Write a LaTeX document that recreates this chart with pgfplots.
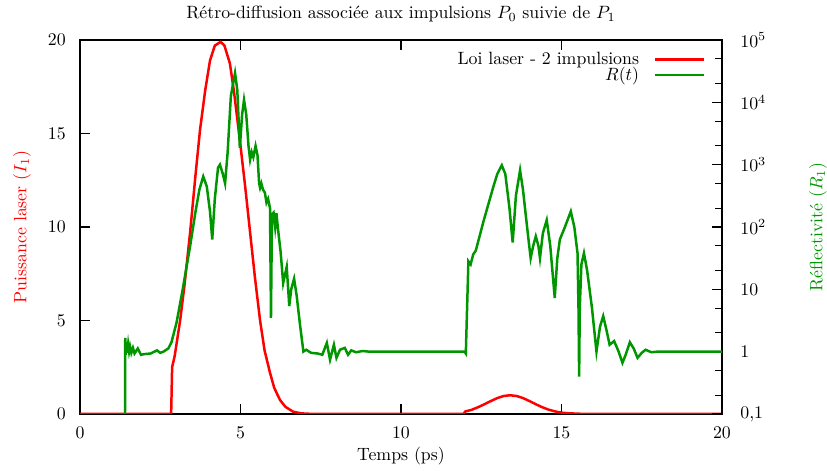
\documentclass[border=0pt]{standalone}
\usepackage{pgfplots}
\pgfplotsset{compat=1.18}
\definecolor{gpgreen}{RGB}{0,150,0}
\definecolor{gpred}{RGB}{255,0,0}

\pgfplotstableread{
t I
0 0
2.84 0
2.87 2.5
2.95 3.1
3.12 5.0
3.25 6.8
3.43 9.7
3.6 12.8
3.74 15.2
3.9 17.3
4.05 18.9
4.2 19.7
4.38 19.9
4.5 19.7
4.67 18.75
4.8 17.2
4.98 14.65
5.15 12.1
5.30 9.7
5.45 7.3
5.61 5.0
5.75 3.4
5.92 2.2
6.05 1.4
6.23 0.75
6.4 0.38
6.64 0.12
6.9 0.03
7.2 0.005
7.6 0
11.95 0
12.0 0.13
12.2 0.22
12.4 0.36
12.6 0.52
12.8 0.69
13.0 0.85
13.2 0.96
13.4 1.0
13.6 0.96
13.8 0.85
14.0 0.69
14.2 0.52
14.4 0.36
14.6 0.23
14.8 0.135
15.0 0.07
15.2 0.037
15.6 0.009
16 0
20 0
}\laser

\pgfplotstableread{
t R
1.40 0.05
1.41 1.66
1.43 0.891
1.45 1.413
1.47 0.955
1.50 1.318
1.53 1.0
1.56 1.202
1.60 0.955
1.65 1.148
1.70 0.933
1.80 1.122
1.90 0.891
2.0 0.912
2.2 0.933
2.4 1.047
2.5 0.955
2.6 1.0
2.75 1.122
2.85 1.413
2.95 2.239
3.01 2.951
3.2 10
3.43 48.98
3.6 177.8
3.72 398.1
3.84 645.7
3.95 446.7
4.05 177.8
4.12 63.10
4.2 281.8
4.30 891.3
4.36 1000
4.45 707.9
4.52 501.2
4.6 1585
4.7 12589
4.83 29512
4.90 15849
4.98 1862
5.05 6310
5.11 10965
5.18 6310
5.25 1995
5.30 1202
5.35 1585
5.40 1318
5.47 1995
5.53 1413
5.58 501.2
5.61 426.6
5.65 501.2
5.70 398.1
5.76 354.8
5.81 245.5
5.86 281.8
5.92 199.5
5.95 3.467
5.98 158.5
6.03 169.8
6.08 100
6.12 166.0
6.17 91.20
6.25 39.81
6.33 12.59
6.44 22.91
6.52 5.370
6.58 10
6.67 14.79
6.75 7.943
6.85 2.818
6.96 1.0
7.05 1.072
7.2 0.955
7.4 0.933
7.55 0.891
7.69 1.380
7.79 0.741
7.91 1.288
7.99 0.794
8.1 1.072
8.25 1.148
8.35 0.891
8.45 1.047
8.6 0.977
8.8 1.023
9.0 1.0
11.98 1.0
12.02 0.933
12.10 28.18
12.17 25.12
12.25 36.31
12.33 41.69
12.57 123.0
12.88 446.7
13.0 707.9
13.14 977.2
13.25 707.9
13.38 199.5
13.48 56.23
13.58 316.2
13.71 812.8
13.8 398.1
13.95 79.43
14.04 31.62
14.12 50.12
14.20 70.79
14.28 50.12
14.33 31.62
14.42 79.43
14.54 128.8
14.65 50.12
14.79 7.244
14.87 31.62
14.95 63.10
15.1 97.72
15.29 177.8
15.4 100
15.50 38
15.53 5
15.55 0.398
15.57 5
15.62 25
15.70 38.02
15.80 19.95
15.95 5.012
16.09 1.0
16.20 2.512
16.30 3.715
16.40 2.239
16.50 1.288
16.64 1.479
16.78 1.0
16.90 0.661
17.0 0.891
17.13 1.413
17.25 1.122
17.37 0.794
17.5 0.955
17.62 1.072
17.8 0.977
18.0 1.0
20.0 1.0
}\reflec

\begin{document}
\begin{tikzpicture}
\pgfplotsset{
  common/.style={
    scale only axis, width=360.7pt, height=210.1pt,
    xmin=0, xmax=20,
    tick align=inside,
    major tick length=5.5pt, minor tick length=4pt,
    axis line style={line width=0.8pt},
    every tick/.style={black, line width=0.6pt},
  }
}
\begin{axis}[common,
  ymin=0, ymax=20,
  xtick={0,5,10,15,20}, ytick={0,5,10,15,20},
  xtick pos=both, ytick pos=left,
  xticklabel style={yshift=-3.6pt},
  yticklabel style={xshift=-4.5pt},
  xlabel={Temps (ps)},
  xlabel style={at={(axis description cs:0.5,-0.1123)}, anchor=center},
  ylabel={Puissance laser ($I_1$)},
  ylabel style={at={(axis description cs:-0.0903,0.5)}, anchor=center, color=gpred},
  title={Rétro-diffusion associée aux impulsions $P_0$ suivie de $P_1$},
  title style={at={(axis description cs:0.5,1.072)}, anchor=center, yshift=-6.5pt},
]
\addplot[gpred, line width=1.4pt] table[x=t, y=I] {\laser};
\coordinate (bbsw) at (axis description cs:-0.1246,-0.1524);
\coordinate (bbne) at (axis description cs:1.1636,1.107);
\end{axis}
\begin{axis}[common,
  ymode=log, ymin=0.1, ymax=1e5,
  axis x line=none, axis y line*=right,
  ytick={0.1,1,10,100,1000,10000,100000},
  yticklabels={{0,1},1,10,$10^2$,$10^3$,$10^4$,$10^5$},
  minor ytick={0.2,0.5,2,5,20,50,200,500,2000,5000,20000,50000},
  yticklabel style={xshift=6.8pt},
  ylabel={Réflectivité ($R_1$)},
  ylabel style={at={(axis description cs:1.1495,0.5)}, anchor=center, color=gpgreen},
  legend style={draw=none, fill=none, at={(axis description cs:1,1)}, anchor=north east,
    xshift=-6pt, yshift=-3pt, row sep=-3pt, column sep=6.5pt,
    nodes={inner sep=1.5pt}},
  legend plot pos=right, legend cell align=right,
  legend image code/.code={\draw[#1] (0pt,0pt) -- (28pt,0pt);},
]
\addlegendimage{gpred, line width=1.4pt}
\addlegendentry{Loi laser - 2 impulsions}
\addplot[gpgreen, line width=1.4pt] table[x=t, y=R] {\reflec};
\addlegendentry{$R(t)$}
\end{axis}
\pgfresetboundingbox
\path[use as bounding box] (bbsw) rectangle (bbne);
\end{tikzpicture}
\end{document}
